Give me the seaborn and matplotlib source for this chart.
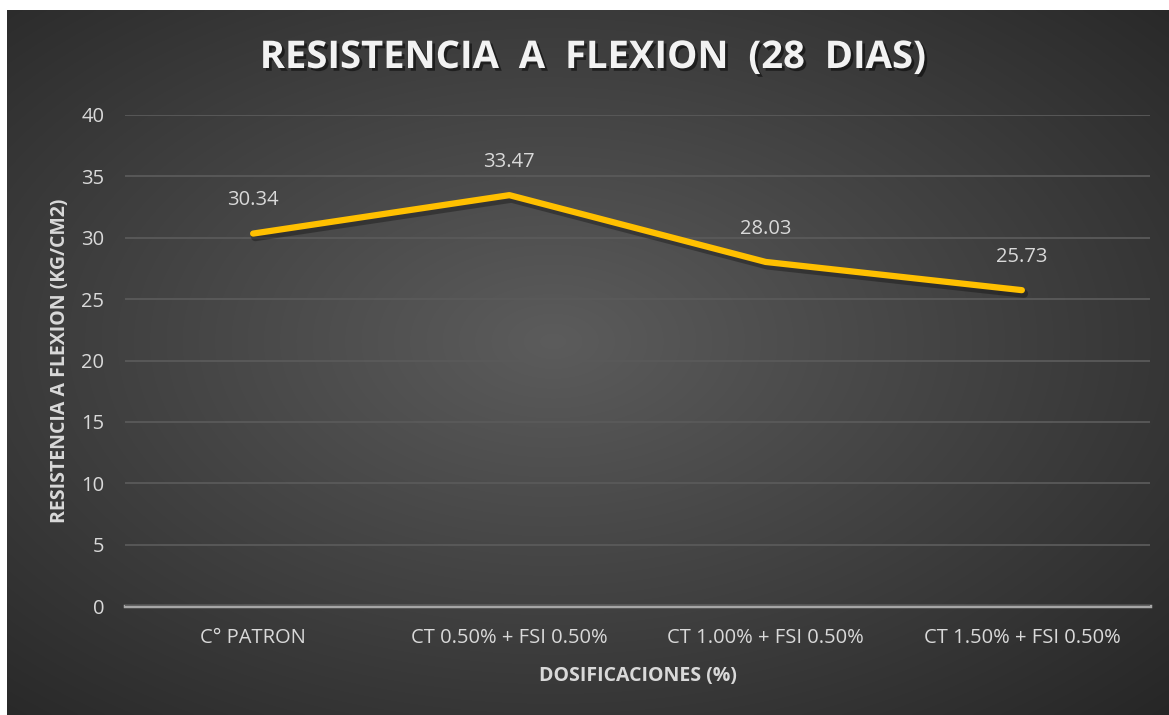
import matplotlib
matplotlib.use('Agg')
import matplotlib.pyplot as plt
import matplotlib.patheffects as pe
import numpy as np
import pandas as pd
import seaborn as sns

# Datos del gráfico
dosificaciones = ['C° PATRON', 'CT 0.50% + FSI 0.50%', 'CT 1.00% + FSI 0.50%', 'CT 1.50% + FSI 0.50%']
resistencia = [30.34, 33.47, 28.03, 25.73]
y_ticks = [0, 5, 10, 15, 20, 25, 30, 35, 40]

sns.set_theme(style='dark')
plt.rcParams['font.family'] = ['Open Sans', 'DejaVu Sans']

W, H = 1169, 715
fig = plt.figure(figsize=(W / 100, H / 100), dpi=100)
fig.patch.set_facecolor('white')

# Fondo con degradado radial
bg = fig.add_axes([7 / W, 0, 1 - 7 / W, 1 - 10 / H])
yy, xx = np.mgrid[0:1:400j, 0:1:600j]
r = np.sqrt(((xx - 0.47) / 0.75) ** 2 + ((yy - 0.47) / 0.75) ** 2)
r = np.clip(r, 0, 1)
c0, c1 = 0.36, 0.15
val = c0 + (c1 - c0) * r
img = np.dstack([val, val, val])
bg.imshow(img, aspect='auto', extent=[0, 1, 0, 1], interpolation='bicubic')
bg.set_axis_off()

ax = fig.add_axes([125 / W, 1 - 606 / H, (1150 - 125) / W, (606 - 115) / H])
ax.patch.set_alpha(0)

df = pd.DataFrame({'Dosificacion': dosificaciones, 'Resistencia': resistencia})
sns.lineplot(data=df, x='Dosificacion', y='Resistencia', ax=ax, color='#FFC000',
             linewidth=4.5, sort=False,
             path_effects=[pe.SimpleLineShadow(offset=(1.5, -2.5), shadow_color='black', alpha=0.3, linewidth=6),
                           pe.Normal()])
for line in ax.lines:
    line.set_solid_capstyle('round')
    line.set_solid_joinstyle('round')

for i, v in enumerate(resistencia):
    ax.annotate(f'{v:.2f}', (i, v), xytext=(0, 24), textcoords='offset points',
                ha='center', va='center', color='#D9D9D9', fontsize=14.5)

ax.set_ylim(0, 40)
ax.set_xlim(-0.5, 3.5)
ax.set_yticks(y_ticks)
ax.set_yticklabels([str(t) for t in y_ticks])
ax.grid(axis='y', color='#5a5a5a', linewidth=1.3)
ax.grid(axis='x', visible=False)
for s in ['top', 'right', 'left']:
    ax.spines[s].set_visible(False)
ax.spines['bottom'].set_color('#a6a6a6')
ax.spines['bottom'].set_linewidth(2.5)
ax.spines['bottom'].set_zorder(0.5)
ax.tick_params(axis='both', colors='#D9D9D9', labelsize=14.5, length=0)
ax.tick_params(axis='x', pad=16)
ax.tick_params(axis='y', pad=15)

ax.set_xlabel('DOSIFICACIONES (%)', color='#D9D9D9', fontsize=14, fontweight='bold', labelpad=13)
ax.set_ylabel('RESISTENCIA A FLEXION (KG/CM2)', color='#D9D9D9', fontsize=14, fontweight='bold', labelpad=8)

fig.text(593 / W, 1 - 58 / H, 'RESISTENCIA  A  FLEXION  (28  DIAS)', ha='center', va='center',
         color='#F2F2F2', fontsize=27.5, fontweight='bold',
         path_effects=[pe.withSimplePatchShadow(offset=(2, -2), shadow_rgbFace='black', alpha=0.5)])

fig.savefig('out.png', dpi=100, facecolor='white')
